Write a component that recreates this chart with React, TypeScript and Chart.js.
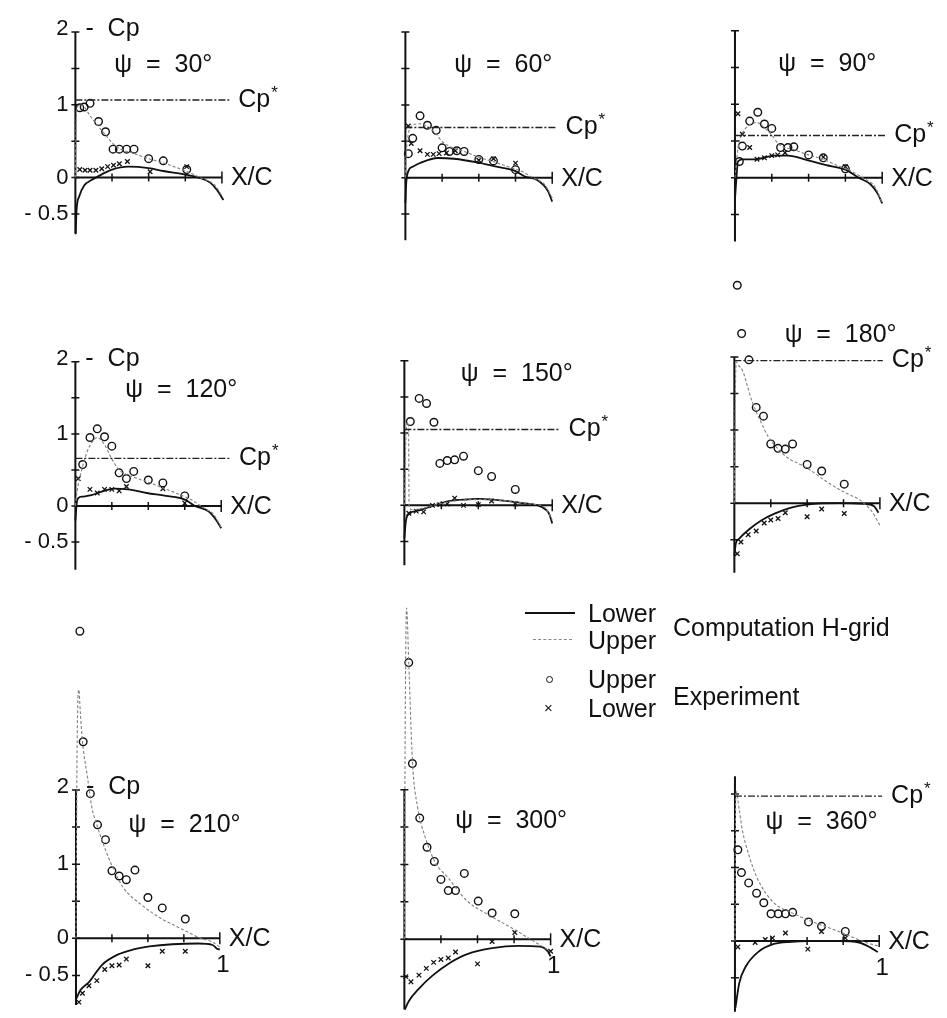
import React, { useEffect, useRef } from "react";
import { Chart, registerables } from "chart.js";

Chart.register(...registerables);

type Pt = [number, number];

// ---------- data (x = X/C, y = -Cp) ----------
const psiAngles = [30, 60, 90, 120, 150, 180, 210, 300, 360];
const cpStarValues: (number | null)[] = [1.066, 0.69, 0.574, 0.66, 1.05, 1.95, null, null, 1.97];
const yTickValues = [-0.5, 0, 0.5, 1, 1.5, 2];
const yTickLabels = ["- 0.5", "0", "", "1", "", "2"];
const xTickValues = [0.25, 0.5, 0.75, 1];

// psi = 30
const upperCalc30: Pt[] = [[0, 0], [0.004, 0.6], [0.01, 0.95], [0.03, 1.0], [0.06, 0.97], [0.1, 0.85], [0.15, 0.72], [0.2, 0.6], [0.25, 0.48], [0.3, 0.4], [0.4, 0.33], [0.5, 0.26], [0.6, 0.2], [0.7, 0.13], [0.8, 0.05], [0.85, 0], [0.9, -0.04], [0.95, -0.1], [1.0, -0.25]];
const lowerCalc30: Pt[] = [[0.002, -0.78], [0.008, -0.45], [0.026, -0.26], [0.06, -0.11], [0.11, -0.035], [0.18, 0.044], [0.25, 0.11], [0.36, 0.15], [0.5, 0.13], [0.6, 0.09], [0.75, 0.04], [0.84, 0], [0.92, -0.07], [0.97, -0.18], [1.01, -0.31]];
const upperExp30: Pt[] = [[0.03, 0.96], [0.06, 0.97], [0.1, 1.02], [0.158, 0.77], [0.206, 0.63], [0.257, 0.39], [0.3, 0.39], [0.35, 0.39], [0.4, 0.39], [0.5, 0.26], [0.6, 0.23], [0.76, 0.11]];
const lowerExp30: Pt[] = [[0.03, 0.11], [0.066, 0.1], [0.1, 0.1], [0.14, 0.1], [0.18, 0.12], [0.22, 0.15], [0.26, 0.17], [0.3, 0.19], [0.355, 0.22], [0.51, 0.08], [0.76, 0.15]];

// psi = 60
const upperCalc60: Pt[] = [[0, 0], [0.005, 0.3], [0.02, 0.6], [0.05, 0.72], [0.1, 0.74], [0.15, 0.7], [0.2, 0.62], [0.25, 0.5], [0.3, 0.43], [0.4, 0.36], [0.5, 0.28], [0.6, 0.22], [0.7, 0.15], [0.8, 0.08], [0.85, 0.02], [0.9, -0.03], [0.95, -0.1], [1.0, -0.28]];
const lowerCalc60: Pt[] = [[0, -0.35], [0.005, -0.1], [0.02, 0.09], [0.05, 0.15], [0.11, 0.21], [0.22, 0.27], [0.33, 0.26], [0.49, 0.21], [0.62, 0.15], [0.75, 0.09], [0.81, 0.02], [0.9, -0.035], [0.97, -0.18], [1.0, -0.33]];
const upperExp60: Pt[] = [[0.02, 0.33], [0.05, 0.54], [0.1, 0.85], [0.15, 0.72], [0.21, 0.65], [0.25, 0.41], [0.3, 0.36], [0.35, 0.37], [0.4, 0.36], [0.5, 0.25], [0.6, 0.23], [0.75, 0.11]];
const lowerExp60: Pt[] = [[0.02, 0.71], [0.04, 0.47], [0.1, 0.37], [0.15, 0.32], [0.19, 0.32], [0.23, 0.33], [0.28, 0.34], [0.34, 0.37], [0.5, 0.24], [0.6, 0.26], [0.75, 0.2]];

// psi = 90
const upperCalc90: Pt[] = [[0, 0], [0.005, 0.1], [0.02, 0.4], [0.05, 0.6], [0.1, 0.72], [0.15, 0.75], [0.2, 0.68], [0.25, 0.58], [0.3, 0.45], [0.4, 0.38], [0.5, 0.31], [0.6, 0.25], [0.7, 0.16], [0.8, 0.08], [0.85, 0.02], [0.9, -0.04], [0.95, -0.12], [1.0, -0.35]];
const lowerCalc90: Pt[] = [[0, -0.3], [0.01, 0], [0.02, 0.22], [0.05, 0.25], [0.14, 0.25], [0.27, 0.3], [0.36, 0.3], [0.49, 0.24], [0.62, 0.17], [0.75, 0.11], [0.84, 0], [0.92, -0.09], [0.97, -0.22], [1.0, -0.35]];
const upperExp90: Pt[] = [[0.03, 0.22], [0.05, 0.43], [0.1, 0.77], [0.155, 0.89], [0.2, 0.73], [0.25, 0.67], [0.31, 0.41], [0.36, 0.41], [0.4, 0.42], [0.5, 0.31], [0.6, 0.27], [0.75, 0.12]];
const lowerExp90: Pt[] = [[0.02, 0.87], [0.05, 0.59], [0.1, 0.41], [0.15, 0.25], [0.2, 0.27], [0.25, 0.3], [0.29, 0.31], [0.34, 0.34], [0.6, 0.28], [0.75, 0.15]];

// psi = 120
const upperCalc120: Pt[] = [[0, 0], [0.005, 0.1], [0.02, 0.3], [0.05, 0.55], [0.08, 0.75], [0.12, 0.9], [0.15, 0.95], [0.2, 0.85], [0.25, 0.65], [0.3, 0.5], [0.4, 0.4], [0.5, 0.33], [0.6, 0.25], [0.7, 0.17], [0.8, 0.08], [0.86, 0], [0.9, -0.05], [0.95, -0.12], [1.0, -0.3]];
const lowerCalc120: Pt[] = [[0, -0.2], [0.01, 0.05], [0.02, 0.11], [0.05, 0.13], [0.11, 0.15], [0.18, 0.2], [0.27, 0.24], [0.36, 0.23], [0.49, 0.18], [0.62, 0.14], [0.75, 0.09], [0.82, 0], [0.91, -0.07], [0.96, -0.18], [1.0, -0.31]];
const upperExp120: Pt[] = [[0.05, 0.575], [0.1, 0.95], [0.15, 1.07], [0.2, 0.96], [0.25, 0.83], [0.3, 0.46], [0.35, 0.38], [0.4, 0.48], [0.5, 0.36], [0.6, 0.32], [0.75, 0.14]];
const lowerExp120: Pt[] = [[0.02, 0.38], [0.1, 0.23], [0.15, 0.18], [0.2, 0.23], [0.25, 0.23], [0.3, 0.21], [0.35, 0.27], [0.6, 0.24], [0.75, 0.04]];

// psi = 150
const upperCalc150: Pt[] = [[0, 0], [0.01, 0.9], [0.02, 1.15], [0.028, 1.1], [0.032, 0], [0.05, -0.06], [0.1, -0.05], [0.2, 0], [0.3, 0.05], [0.5, 0.08], [0.7, 0.06], [0.85, 0.02], [0.95, -0.03], [1.0, -0.2]];
const lowerCalc150: Pt[] = [[0, -0.45], [0.01, -0.22], [0.03, -0.12], [0.1, -0.07], [0.2, 0], [0.3, 0.06], [0.4, 0.08], [0.5, 0.09], [0.6, 0.08], [0.7, 0.06], [0.8, 0.03], [0.9, 0], [0.95, -0.05], [0.98, -0.12], [1.0, -0.25]];
const upperExp150: Pt[] = [[0.04, 1.16], [0.1, 1.48], [0.15, 1.41], [0.2, 1.15], [0.24, 0.58], [0.29, 0.62], [0.34, 0.63], [0.4, 0.68], [0.5, 0.48], [0.59, 0.4], [0.75, 0.22]];
const lowerExp150: Pt[] = [[0.03, -0.11], [0.08, -0.08], [0.13, -0.09], [0.19, 0], [0.24, 0.01], [0.29, 0.02], [0.34, 0.1], [0.4, 0], [0.5, 0.01], [0.59, 0.06], [0.75, 0.02]];

// psi = 180
const upperCalc180: Pt[] = [[0, 0], [0.004, 1.0], [0.012, 1.93], [0.03, 1.88], [0.055, 1.82], [0.09, 1.6], [0.12, 1.4], [0.18, 1.12], [0.23, 0.92], [0.3, 0.74], [0.36, 0.63], [0.5, 0.48], [0.63, 0.3], [0.76, 0.145], [0.85, 0.06], [0.9, -0.02], [0.94, -0.1], [1.0, -0.3]];
const lowerCalc180: Pt[] = [[0, -0.72], [0.01, -0.55], [0.03, -0.49], [0.1, -0.36], [0.19, -0.23], [0.28, -0.14], [0.39, -0.06], [0.5, -0.02], [0.72, 0], [0.89, -0.01], [0.96, -0.04], [0.99, -0.13]];
const upperExp180: Pt[] = [[0.02, 2.98], [0.05, 2.32], [0.1, 1.96], [0.15, 1.31], [0.2, 1.19], [0.25, 0.81], [0.3, 0.75], [0.35, 0.74], [0.4, 0.81], [0.5, 0.53], [0.6, 0.44], [0.755, 0.26]];
const lowerExp180: Pt[] = [[0.02, -0.69], [0.045, -0.53], [0.095, -0.43], [0.15, -0.38], [0.205, -0.27], [0.25, -0.23], [0.3, -0.21], [0.35, -0.13], [0.5, -0.185], [0.6, -0.08], [0.755, -0.14]];

// psi = 210
const upperCalc210: Pt[] = [[0, 0], [0.008, 2.6], [0.02, 3.35], [0.03, 3.05], [0.045, 2.65], [0.08, 2.17], [0.11, 1.77], [0.15, 1.5], [0.2, 1.22], [0.25, 0.98], [0.33, 0.68], [0.45, 0.46], [0.58, 0.28], [0.71, 0.15], [0.87, 0], [0.95, -0.05], [1.0, -0.12]];
const lowerCalc210: Pt[] = [[0.003, -0.81], [0.03, -0.7], [0.09, -0.59], [0.18, -0.36], [0.29, -0.22], [0.4, -0.15], [0.51, -0.11], [0.67, -0.08], [0.85, -0.07], [0.95, -0.09], [0.98, -0.14], [1.0, -0.15]];
const upperExp210: Pt[] = [[0.027, 4.14], [0.05, 2.65], [0.1, 1.95], [0.15, 1.53], [0.205, 1.33], [0.25, 0.91], [0.3, 0.84], [0.35, 0.79], [0.41, 0.92], [0.5, 0.55], [0.6, 0.41], [0.76, 0.26]];
const lowerExp210: Pt[] = [[0.02, -0.86], [0.045, -0.74], [0.09, -0.64], [0.145, -0.57], [0.2, -0.42], [0.25, -0.37], [0.3, -0.36], [0.35, -0.28], [0.5, -0.37], [0.6, -0.175], [0.76, -0.175]];

// psi = 300
const upperCalc300: Pt[] = [[0, 0], [0.006, 3.0], [0.015, 4.43], [0.03, 3.7], [0.055, 2.38], [0.09, 1.77], [0.14, 1.38], [0.21, 1.03], [0.3, 0.82], [0.43, 0.51], [0.6, 0.3], [0.76, 0.12], [0.87, -0.01], [0.98, -0.14]];
const lowerCalc300: Pt[] = [[0.003, -0.94], [0.03, -0.83], [0.1, -0.66], [0.19, -0.49], [0.3, -0.33], [0.43, -0.2], [0.6, -0.12], [0.78, -0.09], [0.93, -0.1], [0.98, -0.16], [1.0, -0.23]];
const upperExp300: Pt[] = [[0.03, 3.7], [0.055, 2.35], [0.105, 1.62], [0.155, 1.23], [0.205, 1.04], [0.25, 0.8], [0.3, 0.65], [0.35, 0.65], [0.41, 0.88], [0.505, 0.51], [0.6, 0.35], [0.755, 0.34]];
const lowerExp300: Pt[] = [[0.01, -0.5], [0.045, -0.57], [0.1, -0.48], [0.15, -0.39], [0.2, -0.31], [0.25, -0.27], [0.3, -0.25], [0.35, -0.17], [0.5, -0.33], [0.6, -0.03], [0.755, 0.09], [1.0, -0.16]];

// psi = 360
const upperCalc360: Pt[] = [[0, 0], [0.003, 1.5], [0.007, 2.04], [0.03, 1.78], [0.05, 1.52], [0.096, 1.17], [0.16, 0.83], [0.27, 0.52], [0.41, 0.37], [0.54, 0.26], [0.72, 0.13], [0.83, 0.04], [0.94, -0.04], [1.0, -0.07]];
const lowerCalc360: Pt[] = [[0.003, -0.91], [0.03, -0.57], [0.074, -0.35], [0.16, -0.15], [0.27, -0.04], [0.39, -0.01], [0.5, 0], [0.72, 0], [0.86, -0.02], [0.94, -0.09], [0.99, -0.15]];
const upperExp360: Pt[] = [[0.02, 1.24], [0.045, 0.93], [0.095, 0.79], [0.15, 0.65], [0.2, 0.52], [0.25, 0.37], [0.3, 0.37], [0.35, 0.37], [0.4, 0.39], [0.51, 0.26], [0.6, 0.2], [0.765, 0.13]];
const lowerExp360: Pt[] = [[0.02, -0.08], [0.14, -0.02], [0.21, 0.02], [0.26, 0.04], [0.35, 0.11], [0.505, -0.11], [0.6, 0.13], [0.765, 0.04]];

const upperCalc = [upperCalc30, upperCalc60, upperCalc90, upperCalc120, upperCalc150, upperCalc180, upperCalc210, upperCalc300, upperCalc360];
const lowerCalc = [lowerCalc30, lowerCalc60, lowerCalc90, lowerCalc120, lowerCalc150, lowerCalc180, lowerCalc210, lowerCalc300, lowerCalc360];
const upperExp = [upperExp30, upperExp60, upperExp90, upperExp120, upperExp150, upperExp180, upperExp210, upperExp300, upperExp360];
const lowerExp = [lowerExp30, lowerExp60, lowerExp90, lowerExp120, lowerExp150, lowerExp180, lowerExp210, lowerExp300, lowerExp360];

// ---------- layout (pixel placement of each panel) ----------
type Layout = {
  ox: number; oy: number; ux: number; uy: number;
  yTop: number; yBot: number; yMin: number; yMax: number;
  titleX: number; titleY: number; starEnd: number;
  labels: boolean; endOne: boolean;
};
const panelLayout: Layout[] = [
  { ox: 72.7, oy: 180, ux: 152, uy: 76, yTop: 2, yBot: -0.77, yMin: -0.9, yMax: 2.4, titleX: 0.6, titleY: 1.54, starEnd: 1.05, labels: true, endOne: false },
  { ox: 402.7, oy: 180, ux: 152.3, uy: 76, yTop: 2, yBot: -0.86, yMin: -0.95, yMax: 2.4, titleX: 0.667, titleY: 1.54, starEnd: 1.03, labels: false, endOne: false },
  { ox: 732.3, oy: 180, ux: 152.7, uy: 76.7, yTop: 2, yBot: -0.87, yMin: -0.95, yMax: 2.4, titleX: 0.627, titleY: 1.54, starEnd: 1.02, labels: false, endOne: false },
  { ox: 72.7, oy: 508.3, ux: 151.3, uy: 75.3, yTop: 2, yBot: -0.885, yMin: -0.95, yMax: 2.4, titleX: 0.726, titleY: 1.61, starEnd: 1.06, labels: true, endOne: false },
  { ox: 401.7, oy: 507.7, ux: 153.3, uy: 75.5, yTop: 2, yBot: -0.83, yMin: -0.95, yMax: 2.4, titleX: 0.76, titleY: 1.81, starEnd: 1.05, labels: false, endOne: false },
  { ox: 731.7, oy: 506, ux: 151, uy: 75.7, yTop: 2, yBot: -0.95, yMin: -1.02, yMax: 3.2, titleX: 0.73, titleY: 2.3, starEnd: 1.02, labels: false, endOne: false },
  { ox: 73.3, oy: 941.7, ux: 149.3, uy: 76.2, yTop: 2, yBot: -0.9, yMin: -1.0, yMax: 4.35, titleX: 0.755, titleY: 1.53, starEnd: 1.0, labels: true, endOne: true },
  { ox: 401.7, oy: 942.7, ux: 151.7, uy: 76.7, yTop: 2, yBot: -0.94, yMin: -1.0, yMax: 4.6, titleX: 0.73, titleY: 1.58, starEnd: 1.0, labels: false, endOne: true },
  { ox: 732.3, oy: 943.3, ux: 149.7, uy: 76.7, yTop: 2.24, yBot: -0.96, yMin: -1.0, yMax: 2.45, titleX: 0.6, titleY: 1.61, starEnd: 1.02, labels: false, endOne: true },
];

const FONT = '"Liberation Sans", Arial, Helvetica, sans-serif';
const INK = "#111";
const X_MIN = -0.5;
const X_MAX = 1.48;

function Panel({ idx }: { idx: number }) {
  const ref = useRef<HTMLCanvasElement>(null);
  const p = panelLayout[idx];
  const left = Math.round(p.ox + X_MIN * p.ux);
  const right = Math.round(p.ox + X_MAX * p.ux);
  const top = Math.round(p.oy - p.yMax * p.uy);
  const bottom = Math.round(p.oy - p.yMin * p.uy);
  const w = right - left;
  const h = bottom - top;

  useEffect(() => {
    const canvas = ref.current;
    if (!canvas) return;
    const toXY = (arr: Pt[]) => arr.map(([x, y]) => ({ x, y }));
    const star = cpStarValues[idx];
    const datasets: any[] = [];
    if (star !== null) {
      datasets.push({
        data: [{ x: 0, y: star }, { x: p.starEnd, y: star }],
        showLine: true, borderColor: "#222", borderWidth: 1.4, borderDash: [7, 2, 2, 2],
        pointRadius: 0,
      });
    }
    datasets.push({
      data: toXY(upperCalc[idx]), showLine: true, borderColor: "#808080", borderWidth: 1.1,
      borderDash: [3, 2], pointRadius: 0, cubicInterpolationMode: "monotone",
    });
    datasets.push({
      data: toXY(lowerCalc[idx]), showLine: true, borderColor: INK, borderWidth: 1.8,
      pointRadius: 0, cubicInterpolationMode: "monotone",
    });
    datasets.push({
      data: toXY(upperExp[idx]), showLine: false, pointStyle: "circle", pointRadius: 3.8,
      borderColor: INK, pointBorderColor: INK, borderWidth: 1.4, pointBorderWidth: 1.4,
      backgroundColor: "rgba(0,0,0,0)", pointBackgroundColor: "rgba(0,0,0,0)",
    });
    datasets.push({
      data: toXY(lowerExp[idx]), showLine: false, pointStyle: "crossRot", pointRadius: 3.2,
      borderColor: INK, pointBorderColor: INK, borderWidth: 1.3, pointBorderWidth: 1.3,
    });

    const xmin = (left - p.ox) / p.ux;
    const xmax = (right - p.ox) / p.ux;
    const ymax = (p.oy - top) / p.uy;
    const ymin = (p.oy - bottom) / p.uy;

    const axesPlugin = {
      id: "panelAxes",
      beforeDatasetsDraw(chart: any) {
        const ctx = chart.ctx;
        const X = (v: number) => chart.scales.x.getPixelForValue(v);
        const Y = (v: number) => chart.scales.y.getPixelForValue(v);
        ctx.save();
        ctx.strokeStyle = INK;
        ctx.lineWidth = 2;
        ctx.beginPath();
        ctx.moveTo(X(0), Y(p.yTop));
        ctx.lineTo(X(0), Y(p.yBot));
        ctx.moveTo(X(0), Y(0));
        ctx.lineTo(X(1), Y(0));
        ctx.stroke();
        ctx.lineWidth = 1.5;
        ctx.beginPath();
        yTickValues.forEach((v) => {
          if (v <= p.yTop + 1e-6) {
            ctx.moveTo(X(0) - 4, Y(v));
            ctx.lineTo(X(0) + 4, Y(v));
          }
        });
        xTickValues.forEach((v) => {
          const len = v === 1 ? 6 : 4;
          ctx.moveTo(X(v), Y(0) - len);
          ctx.lineTo(X(v), Y(0) + len);
        });
        ctx.stroke();
        ctx.restore();
      },
      afterDatasetsDraw(chart: any) {
        const ctx = chart.ctx;
        const X = (v: number) => chart.scales.x.getPixelForValue(v);
        const Y = (v: number) => chart.scales.y.getPixelForValue(v);
        ctx.save();
        ctx.fillStyle = INK;
        ctx.textBaseline = "middle";
        // title
        ctx.font = `25px ${FONT}`;
        ctx.textAlign = "center";
        ctx.fillText(`\u03C8  =  ${psiAngles[idx]}\u00B0`, X(p.titleX), Y(p.titleY));
        // X/C
        ctx.textAlign = "left";
        ctx.fillText("X/C", X(1) + 9, Y(0) + 1);
        // Cp*
        if (star !== null) {
          const sx = X(p.starEnd) + 9;
          ctx.fillText("Cp", sx, Y(star));
          const cw = ctx.measureText("Cp").width;
          ctx.font = `17px ${FONT}`;
          ctx.fillText("*", sx + cw + 1, Y(star) - 7);
          ctx.font = `25px ${FONT}`;
        }
        // -Cp axis name and tick labels
        if (p.labels) {
          ctx.fillText("-  Cp", X(0) + 10, Y(2) - 3);
          ctx.font = `22px ${FONT}`;
          ctx.textAlign = "right";
          yTickValues.forEach((v, i) => {
            const t = yTickLabels[i];
            if (t) ctx.fillText(t, X(0) - 7, Y(v) + (v === 2 ? -3 : 0));
          });
        }
        if (p.endOne) {
          ctx.font = `24px ${FONT}`;
          ctx.textAlign = "center";
          ctx.fillText("1", X(1) + 3, Y(0) + 27);
        }
        ctx.restore();
      },
    };

    const chart = new Chart(canvas, {
      type: "scatter",
      data: { datasets },
      options: {
        animation: false,
        responsive: false,
        maintainAspectRatio: false,
        devicePixelRatio: 1,
        layout: { padding: 0 },
        events: [],
        plugins: { legend: { display: false }, tooltip: { enabled: false }, title: { display: false } },
        scales: {
          x: { type: "linear", min: xmin, max: xmax, display: false },
          y: { type: "linear", min: ymin, max: ymax, display: false },
        },
      } as any,
      plugins: [axesPlugin],
    });
    return () => chart.destroy();
  }, []);

  return (
    <canvas
      ref={ref}
      width={w}
      height={h}
      style={{ position: "absolute", left, top, width: w, height: h }}
    />
  );
}

const legendText: React.CSSProperties = {
  position: "absolute",
  fontFamily: FONT,
  fontSize: 25,
  lineHeight: "25px",
  color: INK,
  whiteSpace: "nowrap",
};

function Legend() {
  return (
    <>
      <div style={{ position: "absolute", left: 525, top: 612, width: 50, borderTop: `2px solid ${INK}` }} />
      <div style={{ position: "absolute", left: 533, top: 639, width: 39, borderTop: "1px dashed #888" }} />
      <div style={{ ...legendText, left: 588, top: 613 - 12 }}>Lower</div>
      <div style={{ ...legendText, left: 588, top: 640 - 12 }}>Upper</div>
      <div style={{ ...legendText, left: 673, top: 627 - 12 }}>Computation H-grid</div>
      <div style={{ position: "absolute", left: 546, top: 676, width: 5, height: 5, borderRadius: "50%", border: `1.4px solid ${INK}` }} />
      <div style={{ ...legendText, left: 544, top: 708 - 9, fontSize: 15, lineHeight: "18px" }}>{"\u00D7"}</div>
      <div style={{ ...legendText, left: 588, top: 679 - 12 }}>Upper</div>
      <div style={{ ...legendText, left: 588, top: 708 - 12 }}>Lower</div>
      <div style={{ ...legendText, left: 673, top: 696 - 12 }}>Experiment</div>
    </>
  );
}

export default function App() {
  return (
    <div
      style={{
        position: "absolute",
        left: 0,
        top: 0,
        width: 947,
        height: 1018,
        overflow: "hidden",
        background: "#fff",
      }}
    >
      {psiAngles.map((_, i) => (
        <Panel key={i} idx={i} />
      ))}
      <Legend />
    </div>
  );
}
